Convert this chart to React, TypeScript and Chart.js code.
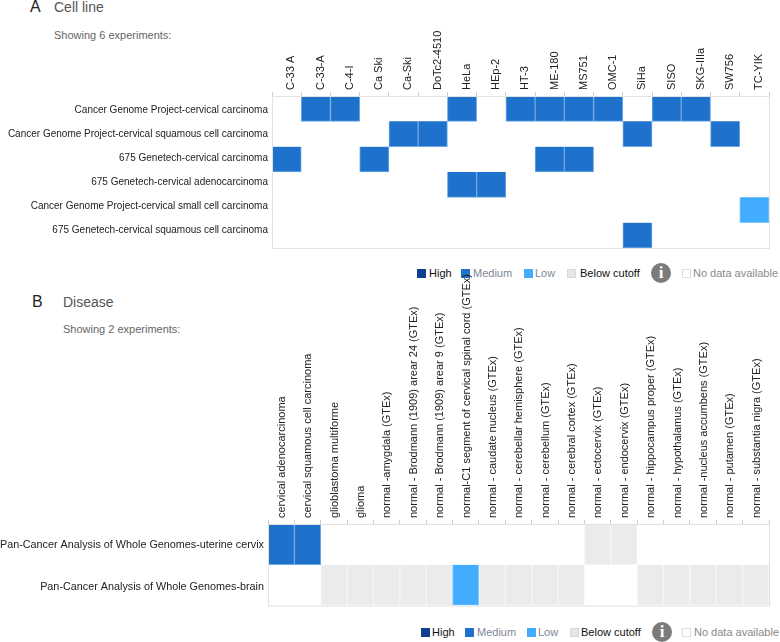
import React, { useEffect, useRef } from "react";
import { Chart, registerables } from "chart.js";

Chart.register(...registerables);

const FONT = '"Liberation Sans", Arial, sans-serif';

const cellLineColumns = ["C-33 A", "C-33-A", "C-4-I", "Ca Ski", "Ca-Ski", "DoTc2-4510", "HeLa", "HEp-2", "HT-3", "ME-180", "MS751", "OMC-1", "SiHa", "SISO", "SKG-IIIa", "SW756", "TC-YIK"];
const cellLineRows = [
  "Cancer Genome Project-cervical carcinoma",
  "Cancer Genome Project-cervical squamous cell carcinoma",
  "675 Genetech-cervical carcinoma",
  "675 Genetech-cervical adenocarcinoma",
  "Cancer Genome Project-cervical small cell carcinoma",
  "675 Genetech-cervical squamous cell carcinoma",
];
// 0 = no data, 1 = below cutoff, 2 = low, 3 = medium
const cellLineLevels = [
  [0, 3, 3, 0, 0, 0, 3, 0, 3, 3, 3, 3, 0, 3, 3, 0, 0],
  [0, 0, 0, 0, 3, 3, 0, 0, 0, 0, 0, 0, 3, 0, 0, 3, 0],
  [3, 0, 0, 3, 0, 0, 0, 0, 0, 3, 3, 0, 0, 0, 0, 0, 0],
  [0, 0, 0, 0, 0, 0, 3, 3, 0, 0, 0, 0, 0, 0, 0, 0, 0],
  [0, 0, 0, 0, 0, 0, 0, 0, 0, 0, 0, 0, 0, 0, 0, 0, 2],
  [0, 0, 0, 0, 0, 0, 0, 0, 0, 0, 0, 0, 3, 0, 0, 0, 0],
];

const diseaseColumns = [
  "cervical adenocarcinoma",
  "cervical squamous cell carcinoma",
  "glioblastoma multiforme",
  "glioma",
  "normal -amygdala (GTEx)",
  "normal - Brodmann (1909) arear 24 (GTEx)",
  "normal - Brodmann (1909) arear 9 (GTEx)",
  "normal-C1 segment of cervical spinal cord (GTEx)",
  "normal - caudate nucleus (GTEx)",
  "normal - cerebellar hemisphere (GTEx)",
  "normal - cerebellum (GTEx)",
  "normal - cerebral cortex (GTEx)",
  "normal - ectocervix (GTEx)",
  "normal - endocervix (GTEx)",
  "normal - hippocampus proper (GTEx)",
  "normal - hypothalamus (GTEx)",
  "normal -nucleus accumbens (GTEx)",
  "normal - putamen (GTEx)",
  "normal - substantia nigra (GTEx)",
];
const diseaseRows = ["Pan-Cancer Analysis of Whole Genomes-uterine cervix", "Pan-Cancer Analysis of Whole Genomes-brain"];
const diseaseLevels = [
  [3, 3, 0, 0, 0, 0, 0, 0, 0, 0, 0, 0, 1, 1, 0, 0, 0, 0, 0],
  [0, 0, 1, 1, 1, 1, 1, 2, 1, 1, 1, 1, 0, 0, 1, 1, 1, 1, 1],
];

const levelFill = ["rgba(0,0,0,0)", "#ebebeb", "#42adff", "#1f72cb"];
const levelEdge = ["rgba(0,0,0,0)", "#f6f6f6", "#7cc6ff", "#6ea8e4"];

const legendLabels = ["High", "Medium", "Low", "Below cutoff", "No data available"];
const legendSwatches = ["#0e3f91", "#1f72cb", "#42adff", "#e6e6e6", "#ffffff"];
const legendInk = ["#111", "#7d8794", "#7d8794", "#111", "#8a8a8a"];

const framePlugin = {
  id: "frame",
  afterDatasetsDraw(chart: any) {
    const { ctx, chartArea: a } = chart;
    ctx.save();
    ctx.strokeStyle = "#e2e2e2";
    ctx.lineWidth = 1;
    ctx.strokeRect(a.left + 0.5, a.top + 0.5, a.right - a.left, a.bottom - a.top);
    ctx.restore();
  },
};

function Heatmap(props: { columns: string[]; rows: string[]; levels: number[][]; top: number; height: number; axisHeight: number; axisWidth: number; xFont: number; yFont: number; labelShift: number; rowLabelMin: number; rowLabelMax: number }) {
  const ref = useRef<HTMLCanvasElement>(null);
  useEffect(() => {
    const { columns, rows, levels, axisHeight, axisWidth, xFont, yFont, labelShift, rowLabelMin, rowLabelMax } = props;
    const chart = new Chart(ref.current as HTMLCanvasElement, {
      type: "bar",
      data: {
        labels: columns,
        datasets: levels.map((row, r) => ({
          label: rows[r],
          data: row.map((v) => (v > 0 ? [r, r + 1] : null)),
          backgroundColor: row.map((v) => levelFill[v]),
          borderColor: row.map((v) => levelEdge[v]),
          borderWidth: 1,
          barPercentage: 1,
          categoryPercentage: 1,
          grouped: false,
          yAxisID: "y",
        })) as any,
      },
      plugins: [framePlugin],
      options: {
        animation: false,
        responsive: false,
        layout: { autoPadding: false, padding: { right: 11, bottom: 2 } },
        plugins: { legend: { display: false }, tooltip: { enabled: false } },
        scales: {
          x: {
            position: "top",
            offset: true,
            afterFit: (s: any) => { s.height = axisHeight; },
            grid: { drawOnChartArea: false, drawTicks: true, tickLength: 4, tickColor: "#cfcfcf", tickWidth: 1, offset: true },
            border: { display: false },
            ticks: { autoSkip: false, minRotation: 90, maxRotation: 90, padding: 2, labelOffset: labelShift, color: "#222", font: { family: FONT, size: xFont } },
          },
          y: { type: "linear", display: false, reverse: true, min: 0, max: rows.length },
          labelsY: {
            type: "linear",
            position: "left",
            reverse: true,
            min: rowLabelMin,
            max: rowLabelMax,
            afterBuildTicks: (s: any) => { s.ticks = rows.map((_, i) => ({ value: i })); },
            afterFit: (s: any) => { s.width = axisWidth; },
            grid: { display: false, drawTicks: false },
            border: { display: false },
            ticks: { autoSkip: false, padding: 4, color: "#222", font: { family: FONT, size: yFont }, callback: (v: any) => rows[v] },
          },
        } as any,
      },
    });
    return () => chart.destroy();
  }, []);
  return <canvas ref={ref} width={780} height={props.height} style={{ position: "absolute", left: 0, top: props.top, width: 780, height: props.height }} />;
}

function Legend(props: { top: number; lefts: number[]; textLefts: number[]; infoLeft: number }) {
  const { top, lefts, textLefts, infoLeft } = props;
  return (
    <>
      {legendLabels.map((label, i) => (
        <React.Fragment key={label}>
          <div style={{ position: "absolute", left: lefts[i], top: top - 4, width: 7, height: 7, background: legendSwatches[i], border: `1px solid ${i === 4 ? "#ddd" : i === 3 ? "#d8d8d8" : legendSwatches[i]}` }} />
          <div style={{ position: "absolute", left: textLefts[i], top: top - 8, fontFamily: FONT, fontSize: 11, lineHeight: "16px", color: legendInk[i], whiteSpace: "nowrap" }}>{label}</div>
        </React.Fragment>
      ))}
      <div style={{ position: "absolute", left: infoLeft, top: top - 10, width: 20, height: 20, borderRadius: 10, background: "#7b7b7b", color: "#fff", textAlign: "center", fontFamily: '"Liberation Serif", serif', fontWeight: 700, fontSize: 17, lineHeight: "20px" }}>i</div>
    </>
  );
}

function Heading(props: { letter: string; title: string; note: string; letterLeft: number; textLeft: number; top: number; noteTop: number }) {
  const { letter, title, note, letterLeft, textLeft, top, noteTop } = props;
  return (
    <>
      <div style={{ position: "absolute", left: letterLeft, top: top - 10, fontFamily: FONT, fontSize: 16, lineHeight: "20px", color: "#222" }}>{letter}</div>
      <div style={{ position: "absolute", left: textLeft, top: top - 10, fontFamily: FONT, fontSize: 14, lineHeight: "20px", color: "#555" }}>{title}</div>
      <div style={{ position: "absolute", left: textLeft, top: noteTop - 8, fontFamily: FONT, fontSize: 11, lineHeight: "16px", color: "#666" }}>{note}</div>
    </>
  );
}

export default function App() {
  return (
    <div style={{ position: "absolute", left: 0, top: 0, width: 780, height: 642, overflow: "hidden", background: "#fff" }}>
      <Heading letter="A" title="Cell line" note="Showing 6 experiments:" letterLeft={30} textLeft={54} top={7} noteTop={35} />
      <Legend top={273} lefts={[417, 461, 524, 567, 682]} textLefts={[429, 473, 535, 580, 693]} infoLeft={651} />
      <Heading letter="B" title="Disease" note="Showing 2 experiments:" letterLeft={32} textLeft={63} top={302} noteTop={329} />
      <Legend top={632} lefts={[421, 465, 527, 570, 682]} textLefts={[432, 477, 538, 581, 694]} infoLeft={652} />
      <Heatmap columns={cellLineColumns} rows={cellLineRows} levels={cellLineLevels} top={28} height={230} axisHeight={68} axisWidth={272} xFont={11} yFont={10} labelShift={18} rowLabelMin={-0.6} rowLabelMax={5.73} />
      <Heatmap columns={diseaseColumns} rows={diseaseRows} levels={diseaseLevels} top={258} height={358} axisHeight={266} axisWidth={268} xFont={11} yFont={10.8} labelShift={14} rowLabelMin={-0.5} rowLabelMax={1.44} />
    </div>
  );
}
